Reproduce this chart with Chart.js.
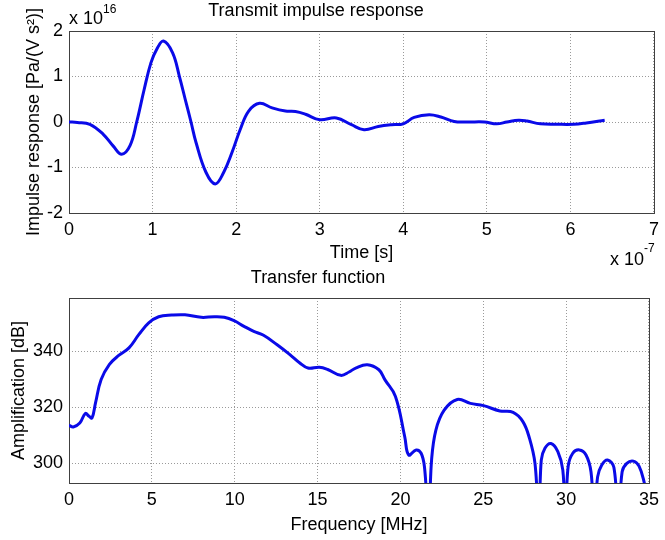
<!DOCTYPE html>
<html>
<head>
<meta charset="utf-8">
<script src="https://cdn.jsdelivr.net/npm/chart.js"></script>
<style>
body { margin: 0; background: #fff; }
.box { position: absolute; left: 0; width: 665px; height: 270px; }
</style>
</head>
<body>
<div class="box" style="top:0"><canvas id="impulse" width="665" height="270"></canvas></div>
<div class="box" style="top:270px"><canvas id="transfer" width="665" height="270"></canvas></div>
<script>
// impulse response, time in units of 1e-7 s, amplitude in units of 1e16 Pa/(V s^2)
const time = [0, 0.1, 0.25, 0.41, 0.53, 0.63, 0.73, 0.81, 0.9, 0.98, 1.05, 1.13, 1.24, 1.32, 1.4, 1.46,
    1.52, 1.64, 1.75, 1.85, 1.95, 2.05, 2.15, 2.28, 2.43, 2.59, 2.71, 2.83, 3.0, 3.2, 3.38, 3.53, 3.7,
    3.86, 4.0, 4.13, 4.31, 4.45, 4.61, 4.77, 4.97, 5.12, 5.24, 5.38, 5.48, 5.64, 5.84, 6.04, 6.19, 6.41]
const impulse = [0, -0.01, -0.05, -0.27, -0.53, -0.71, -0.52, 0, 0.72, 1.3, 1.6, 1.78, 1.52, 1.01, 0.43, 0,
    -0.45, -1.11, -1.36, -1.11, -0.67, -0.16, 0.24, 0.41, 0.31, 0.24, 0.23, 0.17, 0.05, 0.09, -0.06, -0.17, -0.1,
    -0.06, -0.04, 0.1, 0.16, 0.11, 0.01, 0, 0, -0.04, 0, 0.04, 0.02, -0.04, -0.05, -0.05, -0.02, 0.04]

// transfer function, frequency in MHz, amplification in dB
const freq = [0, 0.26, 0.65, 0.99, 1.21, 1.39, 1.6, 1.94, 2.44, 3.0, 3.62, 4.22, 4.81, 5.41, 6.2, 7.0,
    7.98, 8.77, 9.37, 9.96, 10.56, 11.15, 11.74, 12.54, 13.33, 13.93, 14.42, 15.11, 15.61, 16.4, 16.9,
    17.3, 18.0, 18.7, 19.07, 19.7, 20.26, 20.5, 20.95, 21.25, 21.45, 21.7, 21.88, 22.14, 22.64, 23.43,
    24.22, 25.02, 26.0, 26.8, 27.39, 27.79, 28.12, 28.35, 28.5, 28.72, 29.08, 29.5, 29.8, 29.95, 30.12,
    30.4, 30.8, 31.2, 31.5, 31.7, 31.9, 32.15, 32.5, 32.88, 33.15, 33.38, 33.66, 34.06, 34.4, 34.72, 35]
const amplification = [313.6, 313.0, 314.4, 317.8, 316.8, 316.2, 321.6, 329.9, 335.3, 338.5, 341.2, 346.0,
    350.1, 352.3, 352.9, 353.0, 352.1, 352.3, 352.1, 350.9, 348.9, 347.1, 345.7, 342.4, 338.8, 335.8, 334.0,
    334.3, 333.5, 331.4, 332.6, 334.0, 335.2, 333.4, 329.8, 323.9, 309.5, 303.0, 304.8, 303.6, 298.8, 280,
    301.2, 311.9, 319.0, 322.8, 321.4, 320.6, 318.7, 318.2, 314.9, 308.9, 300, 280, 301.2, 305.4, 307.1,
    304.2, 297.6, 280, 298.8, 303.6, 304.8, 303.0, 297.0, 280, 295.2, 299.4, 301.2, 298.6, 280, 297.0,
    300, 300.8, 299.0, 293.0, 285]

Chart.defaults.font.family = "'Liberation Sans', Arial, sans-serif"
Chart.defaults.font.size = 18
Chart.defaults.color = '#000'

const boxPlugin = {
    id: 'box',
    beforeDatasetsDraw(chart) {
        const a = chart.chartArea, ctx = chart.ctx
        ctx.save()
        ctx.strokeStyle = '#404040'
        ctx.lineWidth = 1
        ctx.strokeRect(Math.round(a.left) + 0.5, Math.round(a.top) + 0.5, Math.round(a.width), Math.round(a.height))
        ctx.restore()
    }
}

const notesPlugin = {
    id: 'notes',
    afterDraw(chart, args, opts) {
        const ctx = chart.ctx
        ctx.save()
        ctx.fillStyle = '#000'
        ctx.textBaseline = 'alphabetic'
        opts.items.forEach(n => {
            let x = n.x
            if (n.align == 'center') {
                ctx.font = n.parts[0][1] + "px 'Liberation Sans', Arial, sans-serif"
                x -= ctx.measureText(n.parts[0][0]).width / 2
            }
            n.parts.forEach(p => {
                ctx.font = p[1] + "px 'Liberation Sans', Arial, sans-serif"
                ctx.fillText(p[0], x, n.y + p[2])
                x += ctx.measureText(p[0]).width
            })
        })
        ctx.restore()
    }
}

function points(xs, ys) {
    return xs.map((x, i) => ({ x: x, y: ys[i] }))
}

function axes(xmin, xmax, xstep, ymin, ymax, ystep, xtitle, ytitle, xtitlePad, ytitlePad) {
    const grid = { color: '#9a9a9a', lineWidth: 1, drawTicks: false }
    return {
        x: {
            type: 'linear', min: xmin, max: xmax,
            ticks: { stepSize: xstep, autoSkip: false, maxRotation: 0, padding: 6 },
            grid: grid, border: { display: false, dash: [1, 2] },
            title: { display: true, text: xtitle, padding: { top: 0, bottom: xtitlePad } },
            afterFit(s) { s.height = 57 }
        },
        y: {
            type: 'linear', min: ymin, max: ymax,
            ticks: { stepSize: ystep, includeBounds: false, padding: 6 },
            grid: grid, border: { display: false, dash: [1, 2] },
            title: { display: true, text: ytitle, padding: { top: ytitlePad, bottom: 0 } },
            afterFit(s) { s.width = 69 }
        }
    }
}

function lineSet(data) {
    return {
        data: data,
        borderColor: '#0a0ae8',
        borderWidth: 3,
        pointRadius: 0,
        fill: false,
        tension: 0.4
    }
}

new Chart(document.getElementById('impulse'), {
    type: 'line',
    data: { datasets: [lineSet(points(time, impulse))] },
    plugins: [boxPlugin, notesPlugin],
    options: {
        responsive: false,
        animation: false,
        layout: { padding: { top: 31, right: 7, left: 0, bottom: 0 } },
        scales: axes(0, 7, 1, -2, 2, 1, 'Time [s]', 'Impulse response [Pa/(V s\u00b2)]', 6, 23),
        plugins: {
            legend: { display: false },
            tooltip: { enabled: false },
            notes: {
                items: [
                    { x: 316, y: 15.5, align: 'center', parts: [['Transmit impulse response', 18, 0]] },
                    { x: 69, y: 24, parts: [['x 10', 18, 0], ['16', 12, -11]] },
                    { x: 610, y: 265, parts: [['x 10', 18, 0], ['-7', 12, -13]] }
                ]
            }
        }
    }
})

new Chart(document.getElementById('transfer'), {
    type: 'line',
    data: { datasets: [lineSet(points(freq, amplification))] },
    plugins: [boxPlugin, notesPlugin],
    options: {
        responsive: false,
        animation: false,
        layout: { padding: { top: 28, right: 7, left: 0, bottom: 0 } },
        scales: axes(0, 35, 5, 293, 359, 20, 'Frequency [MHz]', 'Amplification [dB]', 4, 8),
        plugins: {
            legend: { display: false },
            tooltip: { enabled: false },
            notes: {
                items: [
                    { x: 318, y: 13, align: 'center', parts: [['Transfer function', 18, 0]] }
                ]
            }
        }
    }
})
</script>
</body>
</html>
